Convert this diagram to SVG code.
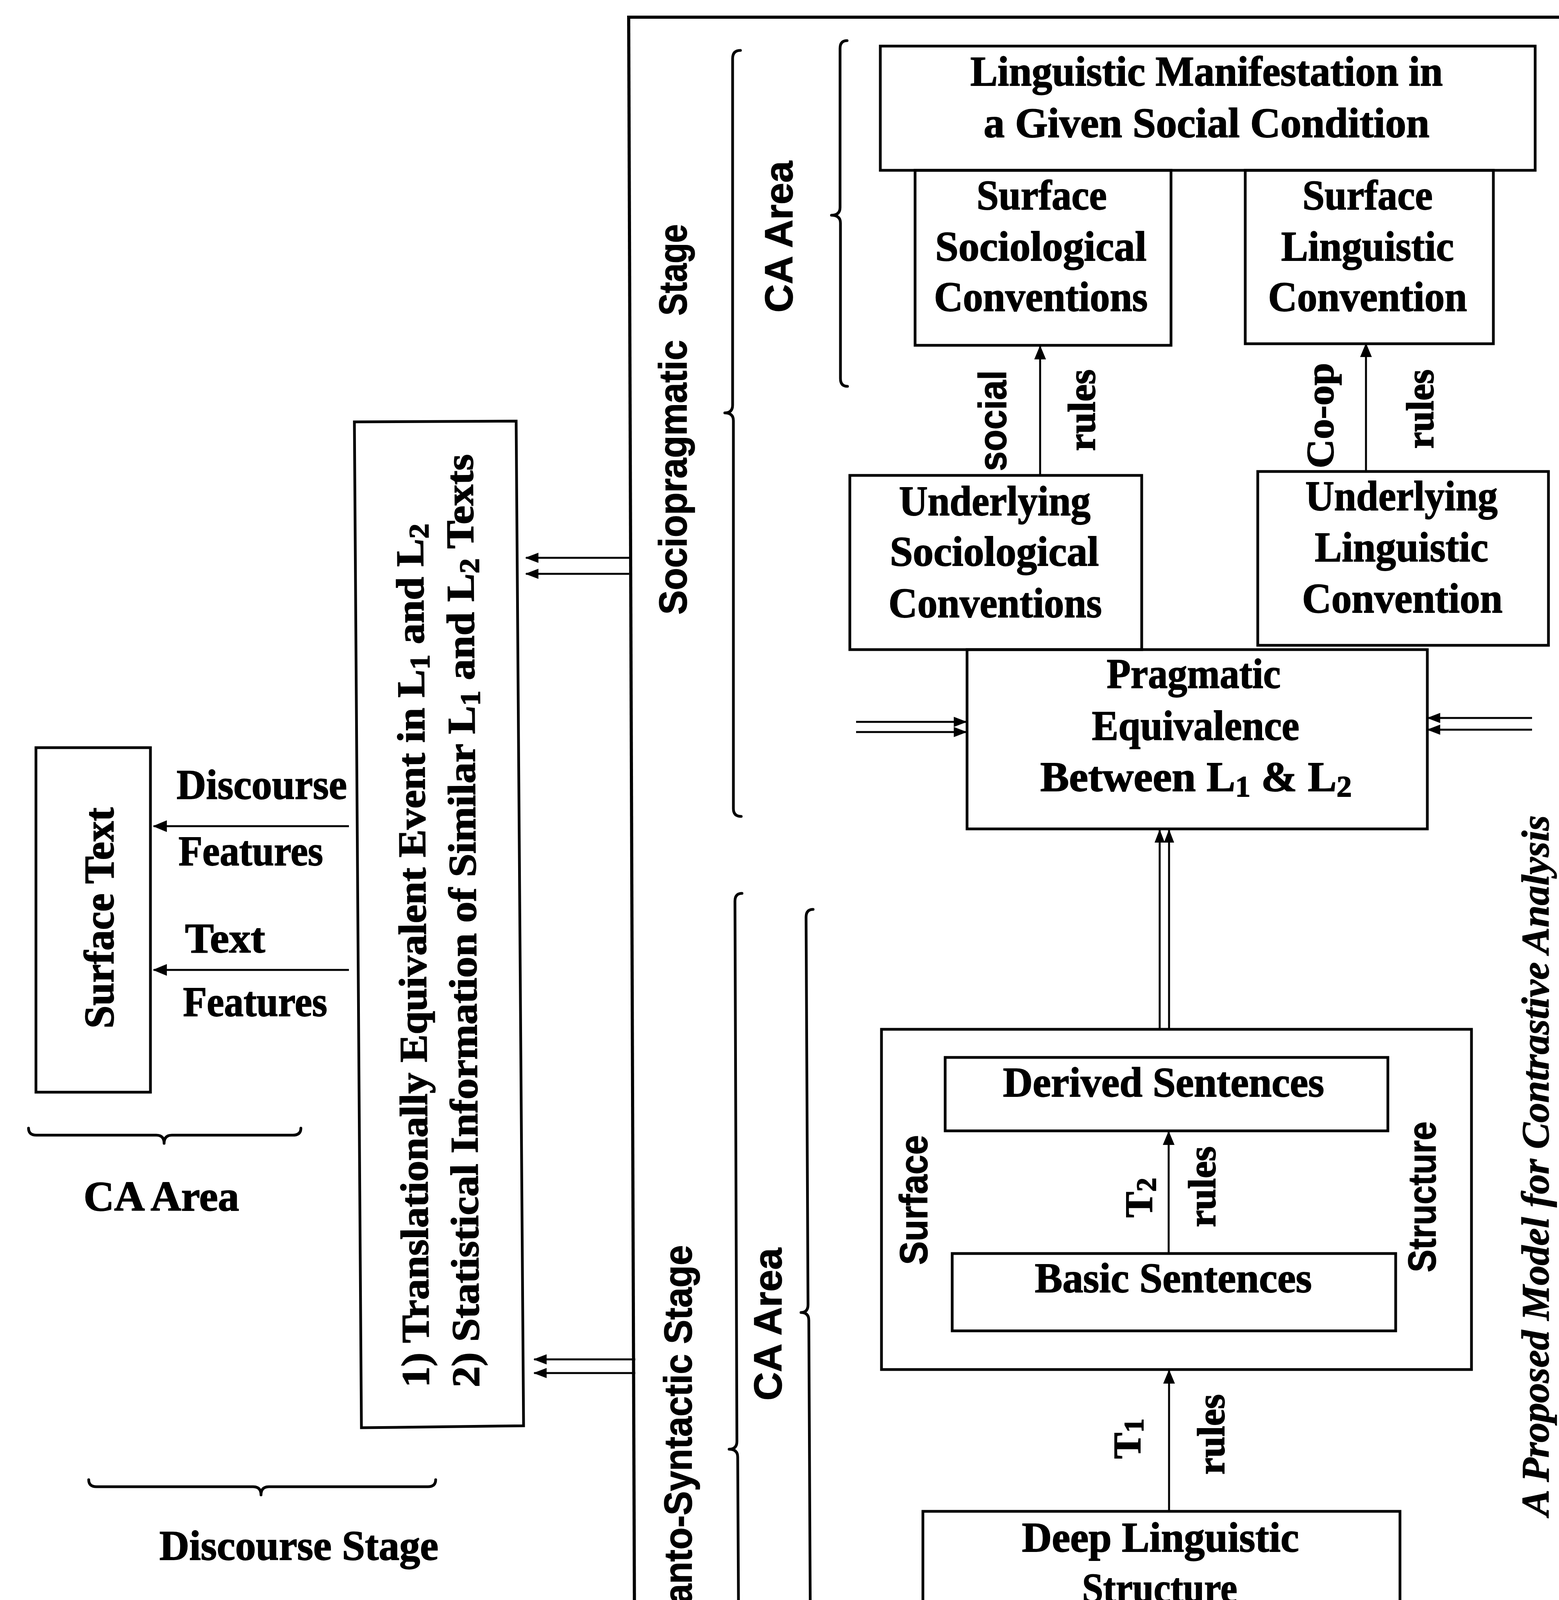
<svg xmlns="http://www.w3.org/2000/svg" width="3990" height="5297" viewBox="0 0 3990 5297">
<style>
.b{fill:none;stroke:#000;stroke-width:7}
.ln{fill:none;stroke:#000;stroke-width:8}
.c{fill:none;stroke:#000;stroke-width:5}
.br{fill:none;stroke:#000;stroke-width:7;stroke-linecap:round;stroke-linejoin:round}
.t{font-family:"Liberation Serif","Times New Roman",serif;font-weight:bold;font-size:108px;text-anchor:middle;fill:#000;stroke:#000;stroke-width:2}
.s{font-family:"Liberation Sans",Arial,sans-serif;font-weight:bold;font-size:100px;text-anchor:middle;fill:#000;stroke:#000;stroke-width:1.5}
.r{font-family:"Liberation Serif","Times New Roman",serif;font-weight:bold;font-size:100px;text-anchor:middle;fill:#000;stroke:#000;stroke-width:2}
.it{font-family:"Liberation Serif","Times New Roman",serif;font-weight:bold;font-style:italic;font-size:100px;text-anchor:middle;fill:#000;stroke:#000;stroke-width:1.5}
</style>
<defs>
<marker id="ah" markerUnits="userSpaceOnUse" markerWidth="36" markerHeight="32" refX="34" refY="16" orient="auto"><path d="M0,1 L36,16 L0,31 z" fill="#000"/></marker>
<marker id="ah2" markerUnits="userSpaceOnUse" markerWidth="34" markerHeight="26" refX="32" refY="13" orient="auto"><path d="M0,0 L34,13 L0,26 z" fill="#000"/></marker>
</defs>
<rect x="0" y="0" width="3990" height="5297" fill="#fff"/>

<g id="frame">
<line class="ln" x1="1609" y1="44" x2="3990" y2="44"/>
<line class="ln" x1="1609" y1="40" x2="1628" y2="5297"/>
</g>

<g id="braces">
<path class="br" d="M1895,129 Q1875,129 1875,150 L1875,1037 Q1875,1057 1855,1057 Q1877,1057 1877,1077 L1877,2070 Q1877,2090 1897,2090"/>
<path class="br" d="M2168,104 Q2150,104 2150,124 L2150,531 Q2150,551 2128,551 Q2151,551 2151,571 L2151,969 Q2151,989 2169,989"/>
<path class="br" d="M1899,2287 Q1881,2287 1881,2307 L1886,3690 Q1886,3710 1866,3710 Q1888,3710 1888,3730 L1896,5222 Q1896,5242 1916,5242"/>
<path class="br" d="M2081,2328 Q2063,2328 2063,2348 L2068,3340 Q2068,3360 2050,3360 Q2070,3360 2070,3380 L2075,4374 Q2075,4394 2095,4394"/>
<path class="br" d="M73,2888 Q73,2906 93,2906 L400,2906 Q420,2906 420,2927 Q420,2906 440,2906 L750,2906 Q770,2906 770,2888"/>
<path class="br" d="M227,3788 Q227,3806 247,3806 L648,3806 Q668,3806 668,3827 Q668,3806 688,3806 L1095,3806 Q1115,3806 1115,3788"/>
</g>

<g id="stage-labels">
<text class="s" transform="translate(1757,1222) rotate(-90)" textLength="703" lengthAdjust="spacingAndGlyphs">Sociopragmatic</text>
<text class="s" transform="translate(1757,691) rotate(-90)" textLength="234" lengthAdjust="spacingAndGlyphs">Stage</text>
<text class="s" transform="translate(2028,606) rotate(-90)" textLength="388" lengthAdjust="spacingAndGlyphs">CA Area</text>
<text class="s" transform="translate(1770,3745) rotate(-90)" textLength="1115" lengthAdjust="spacingAndGlyphs">Semanto-Syntactic Stage</text>
<text class="s" transform="translate(2000,3390) rotate(-90)" textLength="391" lengthAdjust="spacingAndGlyphs">CA Area</text>
<text class="t" x="413" y="3099" textLength="398" lengthAdjust="spacingAndGlyphs">CA Area</text>
<text class="t" x="765" y="3993" textLength="714" lengthAdjust="spacingAndGlyphs">Discourse Stage</text>
<text class="it" transform="translate(3963,2984) rotate(-90)" textLength="1794" lengthAdjust="spacingAndGlyphs">A Proposed Model for Contrastive Analysis</text>
</g>

<g id="node-manifestation">
<rect class="b" x="2253" y="118" width="1676" height="318"/>
<text class="t" x="3088" y="219" textLength="1209" lengthAdjust="spacingAndGlyphs">Linguistic Manifestation in</text>
<text class="t" x="3088" y="351" textLength="1141" lengthAdjust="spacingAndGlyphs">a Given Social Condition</text>
</g>

<g id="node-surface-socio">
<rect class="b" x="2342" y="436" width="655" height="448"/>
<text class="t" x="2666" y="536" textLength="333" lengthAdjust="spacingAndGlyphs">Surface</text>
<text class="t" x="2664" y="667" textLength="541" lengthAdjust="spacingAndGlyphs">Sociological</text>
<text class="t" x="2664" y="796" textLength="547" lengthAdjust="spacingAndGlyphs">Conventions</text>
</g>

<g id="node-surface-ling">
<rect class="b" x="3187" y="436" width="635" height="444"/>
<text class="t" x="3500" y="536" textLength="333" lengthAdjust="spacingAndGlyphs">Surface</text>
<text class="t" x="3500" y="667" textLength="442" lengthAdjust="spacingAndGlyphs">Linguistic</text>
<text class="t" x="3500" y="796" textLength="509" lengthAdjust="spacingAndGlyphs">Convention</text>
</g>

<g id="node-underlying-socio">
<rect class="b" x="2175" y="1217" width="747" height="446"/>
<text class="t" x="2546" y="1319" textLength="490" lengthAdjust="spacingAndGlyphs">Underlying</text>
<text class="t" x="2545" y="1448" textLength="535" lengthAdjust="spacingAndGlyphs">Sociological</text>
<text class="t" x="2547" y="1580" textLength="546" lengthAdjust="spacingAndGlyphs">Conventions</text>
</g>

<g id="node-underlying-ling">
<rect class="b" x="3219" y="1207" width="744" height="445"/>
<text class="t" x="3587" y="1306" textLength="492" lengthAdjust="spacingAndGlyphs">Underlying</text>
<text class="t" x="3587" y="1437" textLength="444" lengthAdjust="spacingAndGlyphs">Linguistic</text>
<text class="t" x="3589" y="1568" textLength="513" lengthAdjust="spacingAndGlyphs">Convention</text>
</g>

<g id="node-pragmatic">
<rect class="b" x="2475" y="1663" width="1178" height="459"/>
<text class="t" x="3055" y="1761" textLength="445" lengthAdjust="spacingAndGlyphs">Pragmatic</text>
<text class="t" x="3060" y="1894" textLength="531" lengthAdjust="spacingAndGlyphs">Equivalence</text>
<text class="t" x="3061" y="2025" textLength="797" lengthAdjust="spacingAndGlyphs">Between L<tspan font-size="76" dy="14">1</tspan><tspan dy="-14"> &amp; L</tspan><tspan font-size="76" dy="14">2</tspan></text>
</g>

<g id="node-surface-structure">
<rect class="b" x="2256" y="2635" width="1510" height="871"/>
<text class="s" transform="translate(2373,3072) rotate(-90)" textLength="332" lengthAdjust="spacingAndGlyphs">Surface</text>
<text class="s" transform="translate(3674,3064) rotate(-90)" textLength="386" lengthAdjust="spacingAndGlyphs">Structure</text>
</g>

<g id="node-derived">
<rect class="b" x="2419" y="2707" width="1133" height="188"/>
<text class="t" x="2978" y="2807" textLength="822" lengthAdjust="spacingAndGlyphs">Derived Sentences</text>
</g>

<g id="node-basic">
<rect class="b" x="2437" y="3209" width="1135" height="198"/>
<text class="t" x="3003" y="3308" textLength="709" lengthAdjust="spacingAndGlyphs">Basic Sentences</text>
</g>

<g id="node-deep">
<rect class="b" x="2362" y="3869" width="1221" height="304"/>
<text class="t" x="2970" y="3972" textLength="709" lengthAdjust="spacingAndGlyphs">Deep Linguistic</text>
<text class="t" x="2968" y="4102" textLength="397" lengthAdjust="spacingAndGlyphs">Structure</text>
</g>

<g id="node-base">
<rect class="b" x="2394" y="4623" width="1193" height="292"/>
<text class="t" x="2988" y="4725" textLength="881" lengthAdjust="spacingAndGlyphs">Sentential Semantic</text>
<text class="t" x="2986" y="4856" textLength="211" lengthAdjust="spacingAndGlyphs">Base</text>
</g>

<g id="node-identity">
<rect class="b" x="2516" y="4915" width="960" height="420"/>
<text class="t" x="2992" y="5010" textLength="428" lengthAdjust="spacingAndGlyphs">Sentential</text>
<text class="t" x="2994" y="5140" textLength="401" lengthAdjust="spacingAndGlyphs">Semantic</text>
<text class="t" x="2992" y="5266" textLength="334" lengthAdjust="spacingAndGlyphs">Identity</text>
</g>

<g id="node-discourse-info">
<polygon class="b" points="907,1080 1321,1078 1340,3650 925,3655"/>
<text class="r" font-size="107" transform="translate(1090,2446) rotate(-90.4)" textLength="2211" lengthAdjust="spacingAndGlyphs">1) Translationally Equivalent Event in L<tspan font-size="72" dy="14">1</tspan><tspan dy="-14"> and L</tspan><tspan font-size="72" dy="14">2</tspan></text>
<text class="r" font-size="107" transform="translate(1218,2357) rotate(-90.4)" textLength="2389" lengthAdjust="spacingAndGlyphs">2) Statistical Information of Similar L<tspan font-size="72" dy="14">1</tspan><tspan dy="-14"> and L</tspan><tspan font-size="72" dy="14">2</tspan><tspan dy="-14"> Texts</tspan></text>
</g>

<g id="node-surface-text">
<rect class="b" x="92" y="1914" width="293" height="882"/>
<text class="t" font-size="105" transform="translate(290,2350) rotate(-90)" textLength="566" lengthAdjust="spacingAndGlyphs">Surface Text</text>
</g>

<g id="connectors">
<line class="c" x1="2662" y1="1217" x2="2662" y2="886" marker-end="url(#ah)"/>
<line class="c" x1="3496" y1="1207" x2="3496" y2="880" marker-end="url(#ah)"/>
<line class="c" x1="2991" y1="3209" x2="2991" y2="2897" marker-end="url(#ah)"/>
<line class="c" x1="2992" y1="3867" x2="2992" y2="3508" marker-end="url(#ah)"/>
<line class="c" x1="2990" y1="4623" x2="2990" y2="4175" marker-end="url(#ah)"/>
<line class="c" x1="893" y1="2115" x2="393" y2="2115" marker-end="url(#ah)"/>
<line class="c" x1="893" y1="2483" x2="393" y2="2483" marker-end="url(#ah)"/>
<line class="c" x1="1610" y1="1428" x2="1346" y2="1428" marker-end="url(#ah2)"/>
<line class="c" x1="1610" y1="1469" x2="1346" y2="1469" marker-end="url(#ah2)"/>
<line class="c" x1="1626" y1="3480" x2="1367" y2="3480" marker-end="url(#ah2)"/>
<line class="c" x1="1626" y1="3515" x2="1367" y2="3515" marker-end="url(#ah2)"/>
<line class="c" x1="2191" y1="1848" x2="2473" y2="1848" marker-end="url(#ah2)"/>
<line class="c" x1="2191" y1="1874" x2="2473" y2="1874" marker-end="url(#ah2)"/>
<line class="c" x1="3921" y1="1838" x2="3654" y2="1838" marker-end="url(#ah2)"/>
<line class="c" x1="3921" y1="1868" x2="3654" y2="1868" marker-end="url(#ah2)"/>
<line class="c" x1="2968" y1="2635" x2="2968" y2="2125" marker-end="url(#ah2)"/>
<line class="c" x1="2992" y1="2635" x2="2992" y2="2125" marker-end="url(#ah2)"/>
</g>

<g id="connector-labels">
<text class="s" transform="translate(2575,1077) rotate(-90)" textLength="258" lengthAdjust="spacingAndGlyphs">social</text>
<text class="r" transform="translate(2802,1050) rotate(-90)" textLength="209" lengthAdjust="spacingAndGlyphs">rules</text>
<text class="r" transform="translate(3412,1064) rotate(-90)" textLength="270" lengthAdjust="spacingAndGlyphs">Co-op</text>
<text class="r" transform="translate(3668,1047) rotate(-90)" textLength="203" lengthAdjust="spacingAndGlyphs">rules</text>
<text class="r" transform="translate(2948,3066) rotate(-90)" textLength="102" lengthAdjust="spacingAndGlyphs">T<tspan font-size="72" dy="10">2</tspan></text>
<text class="r" transform="translate(3110,3038) rotate(-90)" textLength="207" lengthAdjust="spacingAndGlyphs">rules</text>
<text class="r" transform="translate(2918,3683) rotate(-90)" textLength="103" lengthAdjust="spacingAndGlyphs">T<tspan font-size="72" dy="8">1</tspan></text>
<text class="r" transform="translate(3133,3672) rotate(-90)" textLength="206" lengthAdjust="spacingAndGlyphs">rules</text>
<text class="r" transform="translate(2900,4417) rotate(-90)" textLength="344" lengthAdjust="spacingAndGlyphs">grafting</text>
<text class="r" transform="translate(3127,4428) rotate(-90)" textLength="206" lengthAdjust="spacingAndGlyphs">rules</text>
<text class="t" font-size="105" x="670" y="2045" textLength="436" lengthAdjust="spacingAndGlyphs">Discourse</text>
<text class="t" font-size="105" x="642" y="2215" textLength="370" lengthAdjust="spacingAndGlyphs">Features</text>
<text class="t" font-size="105" x="576" y="2438" textLength="205" lengthAdjust="spacingAndGlyphs">Text</text>
<text class="t" font-size="105" x="653" y="2601" textLength="369" lengthAdjust="spacingAndGlyphs">Features</text>
</g>
</svg>
